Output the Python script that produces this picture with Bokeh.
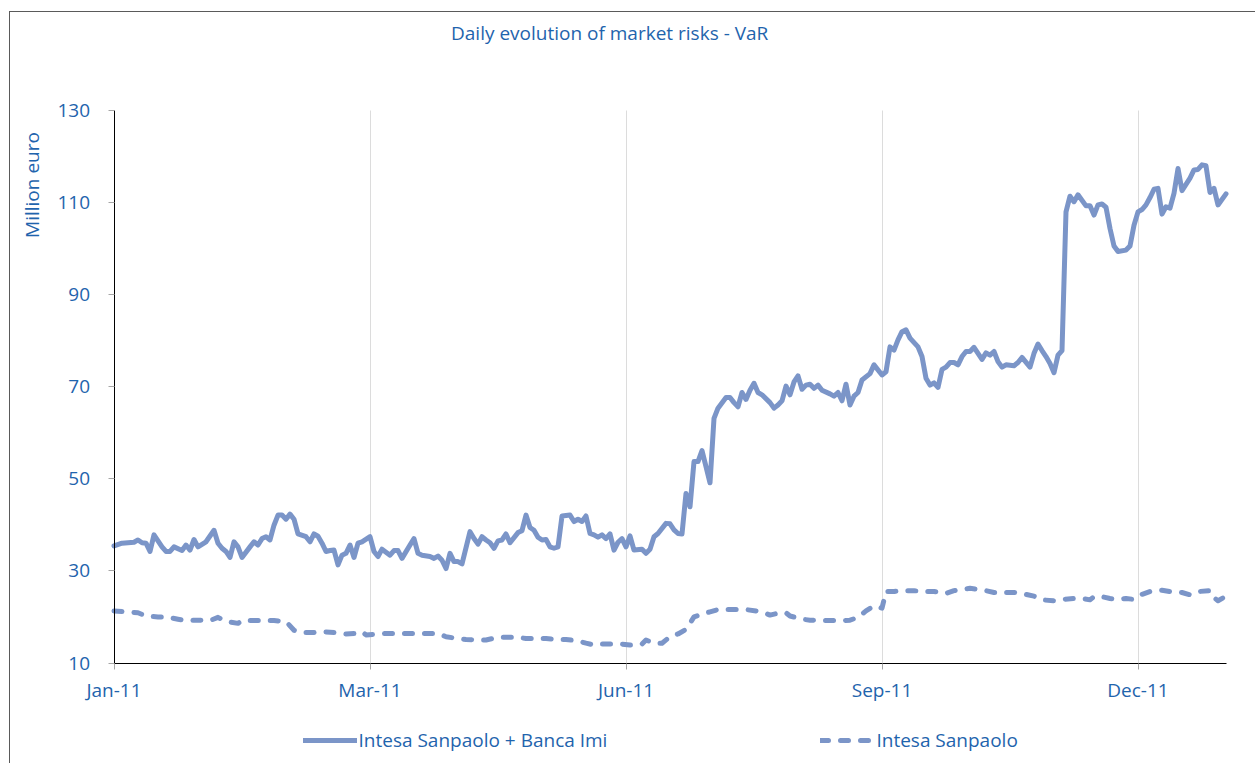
import math
from bokeh.plotting import figure
from bokeh.models import (ColumnDataSource, FixedTicker, Legend, LegendItem, Label)
from bokeh.embed import file_html
from bokeh.resources import INLINE

# ---------------- data ----------------
# x axis is a category (trading-day) axis; labels every 64 trading days
tick_days = [0, 64, 128, 192, 256]
tick_labels = ["Jan-11", "Mar-11", "Jun-11", "Sep-11", "Dec-11"]
last_day = 278

# Intesa Sanpaolo + Banca Imi (solid)
total_day = [0, 2, 5, 6, 7, 8, 9, 10, 12, 13, 14, 15, 17, 18, 19, 20, 21, 23, 25, 26,
             27, 28, 29, 30, 31, 32, 34, 35, 36, 37, 38, 39, 40, 41, 42, 43, 44, 45, 46, 48,
             49, 50, 51, 52, 53, 54, 55, 56, 57, 58, 59, 60, 61, 62, 64, 65, 66, 67, 69, 70,
             71, 72, 74, 75, 76, 77, 79, 80, 81, 82, 83, 84, 85, 86, 87, 89, 90, 91, 92, 93,
             94, 95, 96, 97, 98, 99, 101, 102, 103, 104, 105, 106, 107, 108, 109, 110, 111, 112, 114, 115,
             116, 117, 118, 119, 120, 121, 122, 123, 124, 125, 126, 127, 128, 129, 130, 132, 133, 134, 135, 136,
             138, 139, 140, 141, 142, 143, 144, 145, 146, 147, 148, 149, 150, 151, 153, 154, 155, 156, 157, 158,
             159, 160, 161, 162, 164, 165, 166, 167, 168, 169, 170, 171, 172, 173, 174, 175, 176, 177, 179, 180,
             181, 182, 183, 184, 185, 186, 187, 189, 190, 192, 193, 194, 195, 196, 197, 198, 199, 201, 202, 203,
             204, 205, 206, 207, 208, 209, 210, 211, 212, 213, 214, 215, 217, 218, 219, 220, 221, 222, 223, 225,
             226, 227, 229, 230, 231, 232, 233, 234, 235, 236, 237, 238, 239, 240, 241, 243, 244, 245, 246, 247,
             248, 249, 250, 251, 253, 254, 255, 256, 257, 258, 259, 260, 261, 262, 263, 264, 265, 266, 267, 269,
             270, 271, 272, 273, 274, 275, 276, 278]
total_var = [35.4, 36.0, 36.2, 36.7, 36.1, 36.0, 34.2, 37.8, 35.2, 34.2, 34.2, 35.2, 34.4, 35.6, 34.5, 36.8, 35.2, 36.3, 38.8, 36.0,
             34.9, 34.2, 32.9, 36.3, 35.2, 32.9, 35.2, 36.3, 35.6, 37.0, 37.4, 36.7, 39.9, 42.1, 42.1, 41.2, 42.3, 41.2, 38.0, 37.4,
             36.3, 38.0, 37.5, 36.0, 34.2, 34.4, 34.5, 31.3, 33.4, 33.8, 35.6, 32.9, 36.0, 36.3, 37.4, 34.2, 33.1, 34.7, 33.4, 34.4,
             34.4, 32.7, 35.6, 37.0, 33.8, 33.4, 33.1, 32.7, 33.2, 32.3, 30.5, 33.8, 32.0, 32.0, 31.5, 38.5, 37.0, 35.8, 37.4, 36.7,
             36.1, 34.9, 36.5, 36.7, 38.0, 36.1, 38.3, 38.7, 42.1, 39.4, 38.8, 37.3, 36.7, 36.8, 35.2, 34.9, 35.2, 41.9, 42.1, 40.7,
             41.2, 40.7, 41.9, 38.1, 37.8, 37.3, 37.8, 37.0, 38.0, 34.5, 36.2, 37.0, 35.2, 37.6, 34.5, 34.7, 33.8, 34.7, 37.4, 38.1,
             40.3, 40.2, 38.9, 38.1, 38.0, 46.8, 43.9, 53.7, 53.7, 56.1, 52.6, 49.1, 63.1, 65.3, 67.6, 67.6, 66.5, 65.6, 68.7, 67.2,
             69.2, 70.7, 68.7, 68.2, 66.5, 65.3, 66.0, 66.9, 70.1, 68.2, 71.0, 72.3, 69.4, 70.3, 70.5, 69.6, 70.3, 69.2, 68.4, 67.9,
             68.7, 66.9, 70.5, 66.0, 67.9, 68.7, 71.4, 72.8, 74.7, 72.5, 73.2, 78.6, 77.9, 80.1, 81.9, 82.3, 80.5, 78.6, 76.5, 71.8,
             70.3, 70.8, 69.8, 73.7, 74.2, 75.2, 75.2, 74.7, 76.5, 77.6, 77.6, 78.5, 75.9, 77.3, 76.8, 77.6, 75.4, 74.2, 74.7, 74.5,
             75.2, 76.3, 74.2, 77.2, 79.2, 77.8, 76.5, 75.0, 73.0, 76.8, 77.8, 107.9, 111.3, 110.1, 111.6, 109.2, 109.2, 107.2, 109.4, 109.6,
             108.9, 104.3, 100.5, 99.3, 99.6, 100.5, 105.0, 107.9, 108.4, 109.4, 111.0, 112.8, 113.0, 107.4, 109.0, 108.7, 111.9, 117.3, 112.5, 115.2,
             117.0, 117.1, 118.1, 117.9, 112.1, 113.0, 109.4, 111.8]

# Intesa Sanpaolo (dashed)
isp_day = [0, 3, 6, 8, 11, 13, 16, 18, 21, 24, 26, 28, 31, 32, 35, 37, 40, 43, 45, 47,
           50, 52, 55, 58, 60, 62, 63, 66, 68, 71, 73, 76, 78, 81, 83, 86, 88, 91, 93, 96,
           98, 101, 103, 106, 108, 111, 113, 116, 118, 120, 122, 125, 127, 129, 132, 133, 135, 137, 139, 141,
           143, 144, 145, 147, 149, 151, 153, 156, 158, 162, 164, 166, 168, 169, 172, 174, 177, 179, 182, 184,
           186, 188, 190, 192, 193, 195, 197, 200, 202, 205, 208, 210, 212, 214, 216, 218, 220, 222, 225, 227,
           230, 232, 235, 237, 240, 242, 244, 245, 247, 249, 251, 253, 255, 257, 259, 262, 264, 267, 269, 271,
           274, 275, 276, 278]
isp_var = [21.3, 21.1, 20.9, 20.2, 20.0, 20.0, 19.5, 19.2, 19.3, 19.2, 19.9, 19.0, 18.6, 19.2, 19.2, 19.2, 19.2, 19.0, 17.1, 16.6,
           16.6, 16.8, 16.6, 16.3, 16.4, 16.8, 16.1, 16.3, 16.4, 16.4, 16.4, 16.4, 16.4, 16.4, 15.7, 15.3, 15.1, 15.0, 15.0, 15.6,
           15.6, 15.6, 15.3, 15.3, 15.3, 15.1, 15.1, 14.8, 14.3, 13.9, 14.1, 14.1, 14.1, 13.9, 14.1, 15.0, 14.3, 14.3, 15.7, 16.3,
           17.3, 18.6, 20.0, 20.6, 21.1, 21.6, 21.6, 21.6, 21.6, 21.1, 20.4, 20.8, 20.9, 20.2, 19.5, 19.3, 19.2, 19.2, 19.2, 19.3,
           19.9, 21.3, 22.4, 21.9, 25.5, 25.5, 25.7, 25.7, 25.5, 25.5, 25.1, 25.7, 26.0, 26.2, 26.0, 25.7, 25.3, 25.3, 25.3, 25.1,
           24.5, 23.7, 23.5, 23.8, 24.0, 24.0, 23.7, 24.4, 24.4, 24.0, 23.8, 24.0, 23.8, 24.9, 25.5, 25.8, 25.5, 25.3, 24.8, 25.5,
           25.7, 24.2, 23.5, 24.5]

y_ticks = [10, 30, 50, 70, 90, 110, 130]
y_min, y_max = 10, 130

# ---------------- styling ----------------
FONT = "Open Sans"
BLUE = "#1f64ad"
LINE = "#7b95c8"

W, H = 1246, 752
# The frame spans the whole canvas; axes are pinned at day 0 / value 10 and bounded,
# so the titles and the legend can live inside the frame without being clipped.
PY = 553 / (y_max - y_min)        # px per value unit
PX = 4.0                          # px per trading day
x0_px, y0_px = 103.5, 101.5       # position of (day 0, value 10) from the canvas left / bottom
p = figure(width=W, height=H, output_backend="svg", toolbar_location=None,
           x_range=(-x0_px / PX, (W - x0_px) / PX),
           y_range=(y_min - y0_px / PY, y_min + (H - y0_px) / PY),
           min_border_left=0, min_border_right=0, min_border_top=0, min_border_bottom=0)
p.outline_line_color = None
p.background_fill_color = "white"
p.border_fill_color = "white"
p.styles = {"margin-left": "9px", "margin-top": "11px",
            "border-left": "1.5px solid #5a5a5a", "border-top": "1.5px solid #5a5a5a"}

src_total = ColumnDataSource(dict(x=total_day, y=total_var))
src_isp = ColumnDataSource(dict(x=isp_day, y=isp_var))

r1 = p.line("x", "y", source=src_total, line_color=LINE, line_width=5,
            line_join="round", line_cap="round")
r2 = p.line("x", "y", source=src_isp, line_color=LINE, line_width=5,
            line_dash="8 12", line_cap="round", line_join="round")

# axes
p.xaxis.fixed_location = y_min
p.xaxis.bounds = (0, last_day)
p.xaxis.ticker = FixedTicker(ticks=tick_days)
p.xaxis.major_label_overrides = {d: l for d, l in zip(tick_days, tick_labels)}
p.yaxis.fixed_location = 0
p.yaxis.bounds = (y_min, y_max)
p.yaxis.ticker = FixedTicker(ticks=y_ticks)
for ax in (p.xaxis[0], p.yaxis[0]):
    ax.axis_line_color = "black"
    ax.axis_line_width = 1
    ax.major_tick_line_color = "#a6a6a6"
    ax.major_tick_in = 0
    ax.major_tick_out = 6
    ax.minor_tick_line_color = None
    ax.major_label_text_font = FONT
    ax.major_label_text_font_size = "19px"
    ax.major_label_text_color = BLUE
p.yaxis.major_label_standoff = 18
p.xaxis.major_label_standoff = 8

p.xgrid.ticker = FixedTicker(ticks=tick_days[1:])
p.xgrid.cross_bounds = (y_min, y_max)
p.xgrid.grid_line_color = "#dcdcdc"
p.xgrid.grid_line_width = 1
p.ygrid.grid_line_color = None

# chart title
p.add_layout(Label(x=440.5, y=731.5, x_units="screen", y_units="screen",
                   text="Daily evolution of market risks - VaR", text_font=FONT,
                   text_font_size="19px", text_color=BLUE, text_align="left",
                   text_baseline="middle"))

# y axis title (at the top of the left side)
p.add_layout(Label(x=21.5, y=579.5, x_units="screen", y_units="screen",
                   text="Million euro", text_font=FONT, angle=math.pi / 2,
                   text_font_size="19px", text_color=BLUE, text_align="center",
                   text_baseline="middle"))

# legend below the plot area
legend = Legend(items=[LegendItem(label="Intesa Sanpaolo + Banca Imi", renderers=[r1]),
                       LegendItem(label="Intesa Sanpaolo", renderers=[r2])],
                location=(292.5, 11), orientation="horizontal", padding=0, margin=0,
                spacing=213, glyph_width=54, glyph_height=20, label_standoff=2,
                label_text_font=FONT, label_text_font_size="19px",
                label_text_color=BLUE, border_line_color=None,
                background_fill_alpha=0)
p.add_layout(legend, "center")

open("out.html", "w").write(file_html(p, INLINE))
